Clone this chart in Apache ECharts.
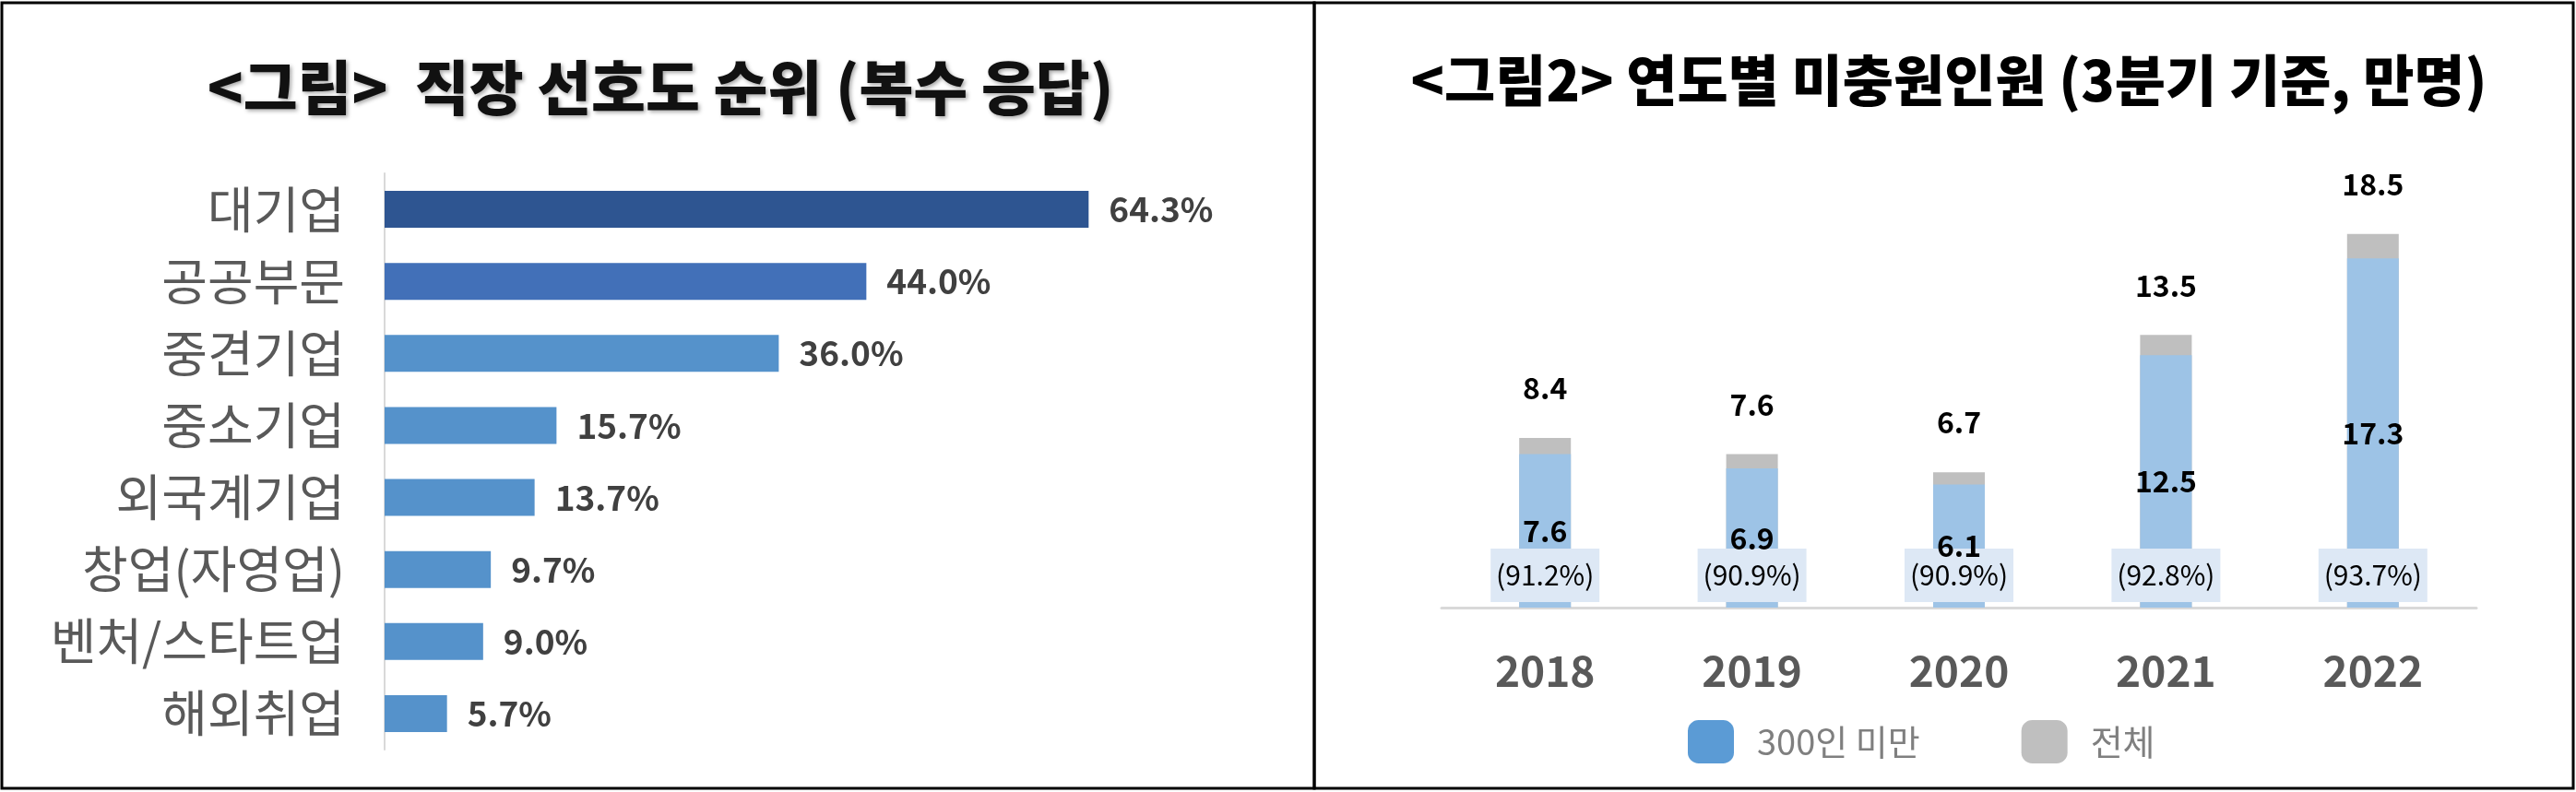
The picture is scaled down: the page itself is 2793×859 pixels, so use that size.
<!DOCTYPE html>
<html><head><meta charset="utf-8">
<script src="https://cdn.jsdelivr.net/npm/echarts@6/dist/echarts.min.js"></script>
<style>html,body{margin:0;background:#fff}#c{width:2793px;height:859px}</style>
</head><body><div id="c"></div>
<script>
// left: 직장 선호도
var prefCats = ['대기업', '공공부문', '중견기업', '중소기업', '외국계기업', '창업(자영업)', '벤처/스타트업', '해외취업'];
var prefVals = [64.3, 44.0, 36.0, 15.7, 13.7, 9.7, 9.0, 5.7];
// right: 미충원인원
var years = ['2018', '2019', '2020', '2021', '2022'];
var totalVals = [8.4, 7.6, 6.7, 13.5, 18.5];
var smallVals = [7.6, 6.9, 6.1, 12.5, 17.3];
var smallShare = ['91.2', '90.9', '90.9', '92.8', '93.7'];

var font = '"Noto Sans CJK KR", "Noto Sans", sans-serif';
var prefColors = ['#2e5591', '#4270b8', '#5592cb', '#5592cb', '#5592cb', '#5592cb', '#5592cb', '#5592cb'];

var chart = echarts.init(document.getElementById('c'));
chart.setOption({
    animation: false,
    textStyle: { fontFamily: font },
    title: [{
        text: '<그림>  직장 선호도 순위 (복수 응답)',
        left: 711, top: 90, textAlign: 'center', textVerticalAlign: 'middle',
        textStyle: { fontSize: 64, fontWeight: 900, color: '#111', fontFamily: font,
            textShadowColor: 'rgba(0,0,0,0.35)', textShadowBlur: 4, textShadowOffsetX: 2, textShadowOffsetY: 2 }
    }, {
        text: '<그림2> 연도별 미충원인원 (3분기 기준, 만명)',
        left: 2108, top: 82, textAlign: 'center', textVerticalAlign: 'middle',
        textStyle: { fontSize: 60, fontWeight: 900, color: '#000', fontFamily: font }
    }],
    graphic: [
        { type: 'rect', shape: { x: 2, y: 3, width: 1423, height: 852 }, style: { fill: 'none', stroke: '#000', lineWidth: 3 } },
        { type: 'rect', shape: { x: 1425, y: 3, width: 1365, height: 852 }, style: { fill: 'none', stroke: '#000', lineWidth: 3 } }
    ],
    legend: {
        left: 1825, top: 776, itemWidth: 50, itemHeight: 47, itemGap: 110,
        textStyle: { fontSize: 38, color: '#7f7f7f', fontFamily: font, padding: [0, 0, 0, 20] },
        data: [
            { name: '300인 미만', itemStyle: { color: '#5b9bd5' } },
            { name: '전체', itemStyle: { color: '#bfbfbf' } }
        ]
    },
    grid: [
        { left: 417, top: 188, width: 831, height: 625 },
        { left: 1563, top: 221, width: 1122, height: 438 }
    ],
    xAxis: [{
        gridIndex: 0, type: 'value', min: 0, max: 70, show: false
    }, {
        gridIndex: 1, type: 'category', data: years,
        axisLine: { lineStyle: { color: '#d9d9d9', width: 3 } },
        axisTick: { show: false },
        axisLabel: { fontSize: 46, fontWeight: 'bold', color: '#595959', margin: 46 }
    }],
    yAxis: [{
        gridIndex: 0, type: 'category', data: prefCats, inverse: true,
        axisLine: { lineStyle: { color: '#d9d9d9', width: 2 } },
        axisTick: { show: false },
        axisLabel: { fontSize: 54, color: '#595959', margin: 43 }
    }, {
        gridIndex: 1, type: 'value', min: 0, max: 20, show: false
    }],
    series: [{
        type: 'bar', xAxisIndex: 0, yAxisIndex: 0, barWidth: 40,
        data: prefVals.map(function (v, i) { return { value: v, itemStyle: { color: prefColors[i] } }; }),
        label: { show: true, position: 'right', distance: 22, fontSize: 37, fontWeight: 'bold', color: '#404040',
            formatter: function (p) { return p.value.toFixed(1) + '%'; } }
    }, {
        name: '전체', type: 'bar', xAxisIndex: 1, yAxisIndex: 1, barWidth: 56, barGap: '-100%',
        itemStyle: { color: '#bfbfbf' }, data: totalVals,
        label: { show: true, position: 'top', distance: 38, fontSize: 32, fontWeight: 'bold', color: '#000' }
    }, {
        name: '300인 미만', type: 'bar', xAxisIndex: 1, yAxisIndex: 1, barWidth: 56, barGap: '-100%',
        itemStyle: { color: '#9dc3e6' }, data: smallVals, z: 3,
        label: { show: true, position: 'insideBottom', distance: 6, fontSize: 30, color: '#000',
            backgroundColor: '#dde8f5', padding: [14, 12, 14, 12], width: 94, align: 'center',
            formatter: function (p) { return '(' + smallShare[p.dataIndex] + '%)'; } }
    }, {
        type: 'bar', xAxisIndex: 1, yAxisIndex: 1, barWidth: 56, barGap: '-100%',
        itemStyle: { color: 'transparent' }, data: smallVals, z: 4, silent: true,
        label: { show: true, position: 'inside', fontSize: 32, fontWeight: 'bold', color: '#000' }
    }]
});
</script></body></html>
